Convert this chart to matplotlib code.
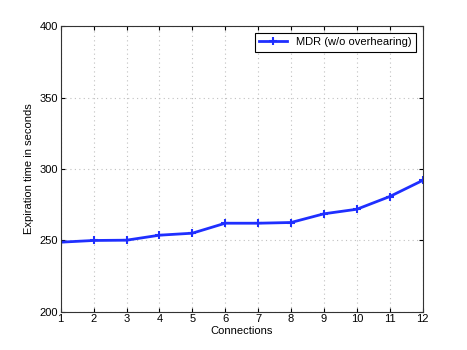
import matplotlib
matplotlib.use("Agg")
import matplotlib.pyplot as plt

plt.rcParams['font.family'] = ['Liberation Sans', 'DejaVu Sans']

connections = list(range(1, 13))
expiration = [248.6, 249.8, 250.0, 253.5, 254.9, 261.9, 261.9, 262.4, 268.5, 271.7, 280.6, 291.9]

fig = plt.figure(figsize=(4.67, 3.5), dpi=100)
ax = fig.add_axes([0.13, 0.11, 0.775, 0.815])

ax.plot(connections, expiration, color='#1f2fff', linewidth=2, marker='+',
        markersize=6, markeredgewidth=1.5, label='MDR (w/o overhearing)')

ax.set_xlim(1, 12)
ax.set_ylim(200, 400)
ax.set_xticks(connections)
ax.set_yticks([200, 250, 300, 350, 400])
ax.grid(True, linestyle=(0, (1, 3)), color='#c0c0c0', linewidth=0.8)
for s in ax.spines.values():
    s.set_color('#333333')
ax.tick_params(direction='in', labelsize=8, top=True, right=True, length=3, pad=2)
ax.set_xlabel('Connections', fontsize=8, labelpad=1)
ax.set_ylabel('Expiration time in seconds', fontsize=8)

leg = ax.legend(loc='upper right', fontsize=8, fancybox=False, framealpha=1,
                edgecolor='black', borderaxespad=0.6, handlelength=2.5)
leg.get_frame().set_linewidth(0.8)

fig.savefig('out.png', dpi=100)
